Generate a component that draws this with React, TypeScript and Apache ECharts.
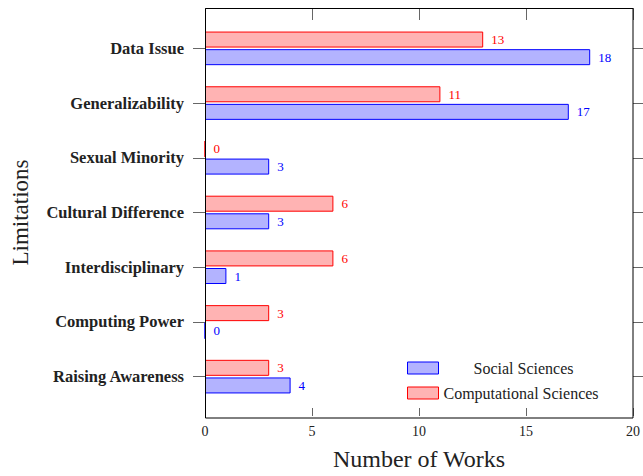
import React, { useEffect, useRef } from "react";
import * as echarts from "echarts";

const categories = [
  "Data Issue",
  "Generalizability",
  "Sexual Minority",
  "Cultural Difference",
  "Interdisciplinary",
  "Computing Power",
  "Raising Awareness",
];
const socialSciences = [18, 17, 3, 3, 1, 0, 4];
const computationalSciences = [13, 11, 0, 6, 6, 3, 3];
const xTicks = [0, 5, 10, 15, 20];

const FONT = "Liberation Serif";
const TICK = "#666";

export default function App() {
  const ref = useRef<HTMLDivElement>(null);
  useEffect(() => {
    if (!ref.current) return;
    const chart = echarts.init(ref.current, null, { renderer: "svg" });
    // bottom-to-top order for a non-inverted category axis
    const cats = categories.slice().reverse();
    const social = socialSciences.slice().reverse();
    const comp = computationalSciences.slice().reverse();
    const labelStyle = (color: string) => ({
      show: true,
      position: "right",
      distance: 8,
      color,
      fontFamily: FONT,
      fontSize: 13,
    });
    chart.setOption({
      animation: false,
      textStyle: { fontFamily: FONT },
      grid: { left: 205, right: 10, top: 21, bottom: 70, containLabel: false },
      legend: [
        {
          data: ["Social Sciences"],
          left: 407,
          top: 360,
          padding: 0,
          itemWidth: 31,
          itemHeight: 12,
          icon: "rect",
          itemStyle: { borderWidth: 1 },
          textStyle: { fontFamily: FONT, fontSize: 16, color: "#222", padding: [0, 0, 0, 30] },
        },
        {
          data: ["Computational Sciences"],
          left: 407,
          top: 385,
          padding: 0,
          itemWidth: 31,
          itemHeight: 12,
          icon: "rect",
          itemStyle: { borderWidth: 1 },
          textStyle: { fontFamily: FONT, fontSize: 16, color: "#222" },
        },
      ],
      xAxis: [
        {
          type: "value",
          min: xTicks[0],
          max: xTicks[xTicks.length - 1],
          interval: 5,
          position: "bottom",
          offset: 12,
          axisLine: { show: false, onZero: false },
          axisTick: { show: true, inside: true, length: 8, lineStyle: { color: TICK } },
          splitLine: { show: false },
          axisLabel: { color: "#222", fontFamily: FONT, fontSize: 14, margin: 8 },
          name: "Number of Works",
          nameLocation: "middle",
          nameGap: 31,
          nameTextStyle: { fontFamily: FONT, fontSize: 24, color: "#222" },
        },
        {
          type: "value",
          min: xTicks[0],
          max: xTicks[xTicks.length - 1],
          interval: 5,
          position: "top",
          offset: 13,
          axisLine: { show: false, onZero: false },
          axisTick: { show: true, inside: true, length: 12, lineStyle: { color: TICK } },
          splitLine: { show: false },
          axisLabel: { show: false },
        },
      ],
      yAxis: [
        {
          type: "category",
          data: cats,
          position: "left",
          axisLine: { show: false, onZero: false },
          axisTick: { show: true, alignWithLabel: true, length: 12, lineStyle: { color: TICK } },
          axisLabel: {
            color: "#222",
            fontFamily: FONT,
            fontSize: 16.5,
            fontWeight: "bold",
            margin: 21,
          },
          name: "Limitations",
          nameLocation: "middle",
          nameGap: 173,
          nameRotate: 90,
          nameTextStyle: { fontFamily: FONT, fontSize: 23, color: "#222" },
        },
        {
          type: "category",
          data: cats,
          position: "right",
          axisLine: { show: false, onZero: false },
          axisTick: { show: true, alignWithLabel: true, length: 12, lineStyle: { color: TICK } },
          axisLabel: { show: false },
        },
      ],
      series: [
        {
          name: "Computational Sciences",
          type: "bar",
          data: comp,
          barWidth: 16,
          barGap: "10%",
          itemStyle: { color: "#ffb3b3", borderColor: "#ff0000", borderWidth: 1 },
          label: labelStyle("#ff0000"),
        },
        {
          name: "Social Sciences",
          type: "bar",
          data: social,
          barWidth: 16,
          barGap: "10%",
          itemStyle: { color: "#b3b3ff", borderColor: "#0000ff", borderWidth: 1 },
          label: labelStyle("#0000ff"),
        },
      ],
      graphic: [
        {
          type: "rect",
          shape: { x: 205.5, y: 8.5, width: 427.5, height: 409.5 },
          style: { fill: "none", stroke: "#000", lineWidth: 1 },
          silent: true,
          z: 100,
        },
      ],
    });
    return () => chart.dispose();
  }, []);
  return <div ref={ref} style={{ width: 643, height: 476, position: "absolute", left: 0, top: 0 }} />;
}
